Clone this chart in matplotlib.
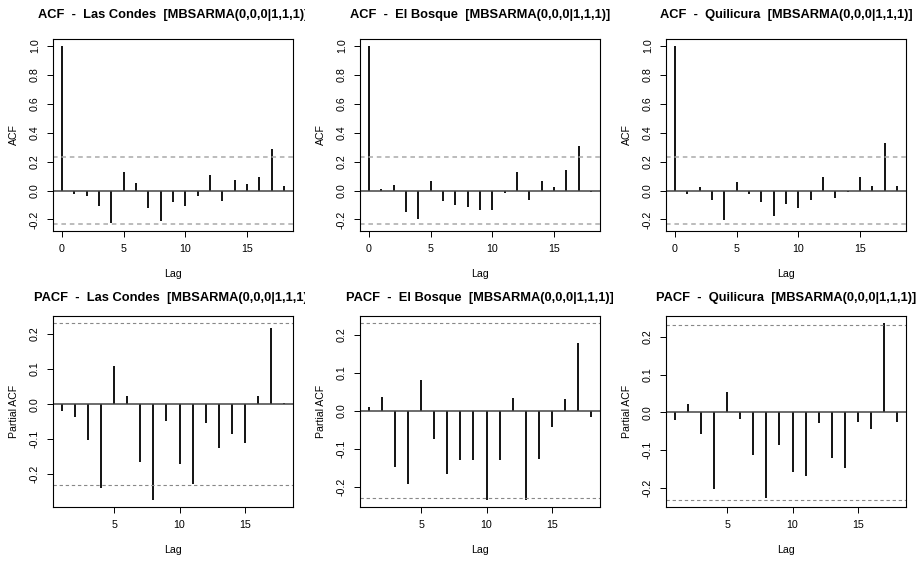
import numpy as np
import matplotlib
matplotlib.use("Agg")
import matplotlib.pyplot as plt
from matplotlib.transforms import Bbox

plt.rcParams['font.family'] = ['Liberation Sans', 'DejaVu Sans']
plt.rcParams['axes.unicode_minus'] = True

## Station names and model label
stations = ['Las Condes', 'El Bosque', 'Quilicura']
model = 'MBSARMA(0,0,0|1,1,1)'

## ACF values, lags 0..18
acf_lags = np.arange(0, 19)
acf_las_condes = [1.0, -0.023, -0.04, -0.105, -0.228, 0.128, 0.049, -0.119, -0.212, -0.077,
                  -0.105, -0.037, 0.109, -0.074, 0.072, 0.047, 0.095, 0.286, 0.028]
acf_el_bosque = [1.0, 0.012, 0.037, -0.151, -0.198, 0.067, -0.07, -0.098, -0.112, -0.135,
                 -0.137, -0.014, 0.13, -0.067, 0.067, 0.021, 0.144, 0.309, -0.012]
acf_quilicura = [1.0, -0.021, 0.023, -0.063, -0.202, 0.06, -0.026, -0.081, -0.179, -0.091,
                 -0.123, -0.067, 0.091, -0.051, -0.009, 0.091, 0.033, 0.33, 0.03]

## PACF values, lags 1..18
pacf_lags = np.arange(1, 19)
pacf_las_condes = [-0.021, -0.037, -0.103, -0.239, 0.109, 0.023, -0.166, -0.273, -0.047,
                   -0.17, -0.227, -0.055, -0.125, -0.085, -0.112, 0.022, 0.216, 0.004]
pacf_el_bosque = [0.01, 0.036, -0.148, -0.194, 0.082, -0.075, -0.168, -0.131, -0.131,
                  -0.235, -0.131, 0.034, -0.235, -0.128, -0.043, 0.03, 0.179, -0.016]
pacf_quilicura = [-0.019, 0.023, -0.058, -0.203, 0.054, -0.016, -0.113, -0.225, -0.086,
                  -0.158, -0.167, -0.027, -0.119, -0.147, -0.024, -0.043, 0.236, -0.026]

n_obs = 72
conf = 1.96 / np.sqrt(n_obs)

acf_all = [acf_las_condes, acf_el_bosque, acf_quilicura]
pacf_all = [pacf_las_condes, pacf_el_bosque, pacf_quilicura]

W, H = 923, 563
fig = plt.figure(figsize=(W / 100, H / 100), dpi=100)

col_left = [53, 360, 666]
ax_w = 240

def r_lim(lo, hi):
  # R style 4% axis expansion
  d = (hi - lo) * 0.04
  return lo - d, hi + d

def draw_panel(ax, lags, vals, col, kind, name, title_pad, dash_color, dash_lw):
  ax.vlines(lags, 0, vals, color='black', lw=1.3)
  ax.axhline(0, color='#444444', lw=1.1)
  ax.axhline(conf, color=dash_color, lw=dash_lw, ls=(0, (3, 2.5)))
  ax.axhline(-conf, color=dash_color, lw=dash_lw, ls=(0, (3, 2.5)))
  ax.set_xlim(*r_lim(lags[0], lags[-1]))
  ax.set_ylim(*r_lim(min(min(vals), -conf), max(max(vals), conf)))
  for s in ax.spines.values():
    s.set_linewidth(0.8)
  ax.tick_params(direction='out', length=4.5, width=0.7, labelsize=7.7, pad=5)
  ax.tick_params(axis='y', pad=5)
  for lab in ax.get_yticklabels():
    lab.set_rotation(90)
    lab.set_va('center')
  ax.set_xlabel('Lag', fontsize=7.6, labelpad=10.5)
  ax.set_ylabel('ACF' if kind == 'ACF' else 'Partial ACF', fontsize=7.6, labelpad=8)
  t = ax.set_title('{0}  -  {1}  [{2}]'.format(kind, name, model),
                   fontsize=9.3, fontweight='bold', pad=title_pad)
  # R clips the title at the panel region
  x0 = col * W / 3.0
  t.set_clip_box(Bbox.from_extents(x0, 0, x0 + W / 3.0 - 2.2, H))
  t.set_clip_on(True)

for i in range(3):
  ax = fig.add_axes([col_left[i] / W, (H - 231) / H, ax_w / W, 192 / H])
  ax.set_yticks([-0.2, 0.0, 0.2, 0.4, 0.6, 0.8, 1.0])
  ax.set_xticks([0, 5, 10, 15])
  ax.set_yticklabels(['{0:.1f}'.format(v) for v in [-0.2, 0.0, 0.2, 0.4, 0.6, 0.8, 1.0]])
  draw_panel(ax, acf_lags, acf_all[i], i, 'ACF', stations[i], 15, '#aaaaaa', 1.1)

  ax = fig.add_axes([col_left[i] / W, (H - 507) / H, ax_w / W, 191 / H])
  ax.set_yticks([-0.2, -0.1, 0.0, 0.1, 0.2])
  ax.set_xticks([5, 10, 15])
  ax.set_yticklabels(['{0:.1f}'.format(v) for v in [-0.2, -0.1, 0.0, 0.1, 0.2]])
  draw_panel(ax, pacf_lags, pacf_all[i], i, 'PACF', stations[i], 10.5, '#888888', 0.8)

fig.savefig('out.png', dpi=100)
